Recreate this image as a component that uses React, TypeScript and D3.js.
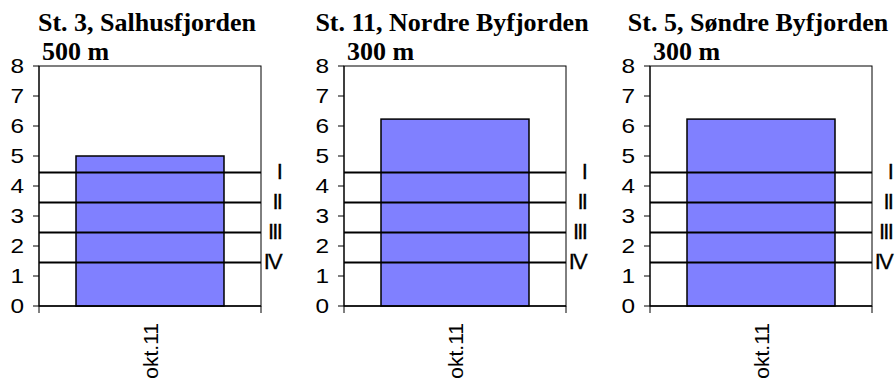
import React from "react";
import * as d3 from "d3";

const stations = ["St. 3, Salhusfjorden", "St. 11, Nordre Byfjorden", "St. 5, Søndre Byfjorden"];
const depths = ["500 m", "300 m", "300 m"];
const categories = ["okt.11"];
const oxygenValues = [5.0, 6.23, 6.23];
const classLabels = ["I", "II", "III", "IV"];
const classLimits = [4.45, 3.45, 2.45, 1.45];
const yTicks = [0, 1, 2, 3, 4, 5, 6, 7, 8];

const W = 895;
const H = 378;
const panelLefts = [39, 344, 650];
const plotW = 222;
const plotTop = 66;
const plotBottom = 306;

function Panel({ idx }: { idx: number }) {
  const left = panelLefts[idx];
  const right = left + plotW;
  const y = d3.scaleLinear().domain([0, 8]).range([plotBottom, plotTop]);
  const x = d3
    .scaleBand<string>()
    .domain(categories)
    .range([left, right])
    .paddingInner(1 / 3)
    .paddingOuter(1 / 6);
  const sans = "Arial, 'Liberation Sans', sans-serif";
  const serif = "'Times New Roman', 'Liberation Serif', serif";
  return (
    <g>
      <text
        x={left + plotW / 2 - 3}
        y={31}
        textAnchor="middle"
        fontFamily={serif}
        fontWeight="bold"
        fontSize={26}
        fill="#000"
      >
        {stations[idx]}
      </text>
      <text x={left + 3} y={60} fontFamily={serif} fontWeight="bold" fontSize={26} fill="#000">
        {depths[idx]}
      </text>
      {/* plot area border */}
      <rect x={left} y={plotTop} width={plotW} height={plotBottom - plotTop} fill="#fff" stroke="#000" strokeWidth={1} />
      {/* bars */}
      {categories.map((c) => (
        <rect
          key={c}
          x={x(c)!}
          y={y(oxygenValues[idx])}
          width={x.bandwidth()}
          height={y(0) - y(oxygenValues[idx])}
          fill="#8080FF"
          stroke="#000"
          strokeWidth={1.5}
        />
      ))}
      {/* class lines */}
      {classLimits.map((v, i) => (
        <g key={i}>
          <line x1={left} x2={right} y1={y(v)} y2={y(v)} stroke="#000" strokeWidth={2} />
          <text
            x={right + 20}
            y={y(v) + 6}
            textAnchor="end"
            fontFamily={sans}
            fontSize={22}
            letterSpacing={-1.8}
            stroke="#000"
            strokeWidth={0.3}
            fill="#000"
          >
            {classLabels[i]}
          </text>
        </g>
      ))}
      {/* y axis */}
      <line x1={left} x2={left} y1={plotTop} y2={plotBottom} stroke="#000" strokeWidth={1} />
      {yTicks.map((t) => (
        <g key={t}>
          <line x1={left - 6} x2={left} y1={y(t)} y2={y(t)} stroke="#000" strokeWidth={1} />
          <text
            transform={`translate(${left - 15},${y(t)}) scale(1.22,1)`}
            dy="0.36em"
            textAnchor="end"
            fontFamily={sans}
            fontSize={20}
            fill="#000"
          >
            {t}
          </text>
        </g>
      ))}
      {/* x axis */}
      <line x1={left} x2={right} y1={plotBottom} y2={plotBottom} stroke="#000" strokeWidth={1.5} />
      <line x1={left} x2={left} y1={plotBottom} y2={plotBottom + 7} stroke="#000" strokeWidth={1} />
      <line x1={right} x2={right} y1={plotBottom} y2={plotBottom + 7} stroke="#000" strokeWidth={1} />
      {categories.map((c) => {
        const cx = x(c)! + x.bandwidth() / 2;
        return (
          <text
            key={c}
            transform={`translate(${cx},${323}) rotate(-90)`}
            dy="0.36em"
            textAnchor="end"
            fontFamily={sans}
            fontSize={21}
            fill="#000"
          >
            {c}
          </text>
        );
      })}
    </g>
  );
}

export default function App() {
  return (
    <svg
      width={W}
      height={H}
      viewBox={`0 0 ${W} ${H}`}
      style={{ position: "absolute", left: 0, top: 0, background: "#fff" }}
    >
      <rect x={0} y={0} width={W} height={H} fill="#fff" />
      {stations.map((s, i) => (
        <Panel key={s} idx={i} />
      ))}
    </svg>
  );
}
